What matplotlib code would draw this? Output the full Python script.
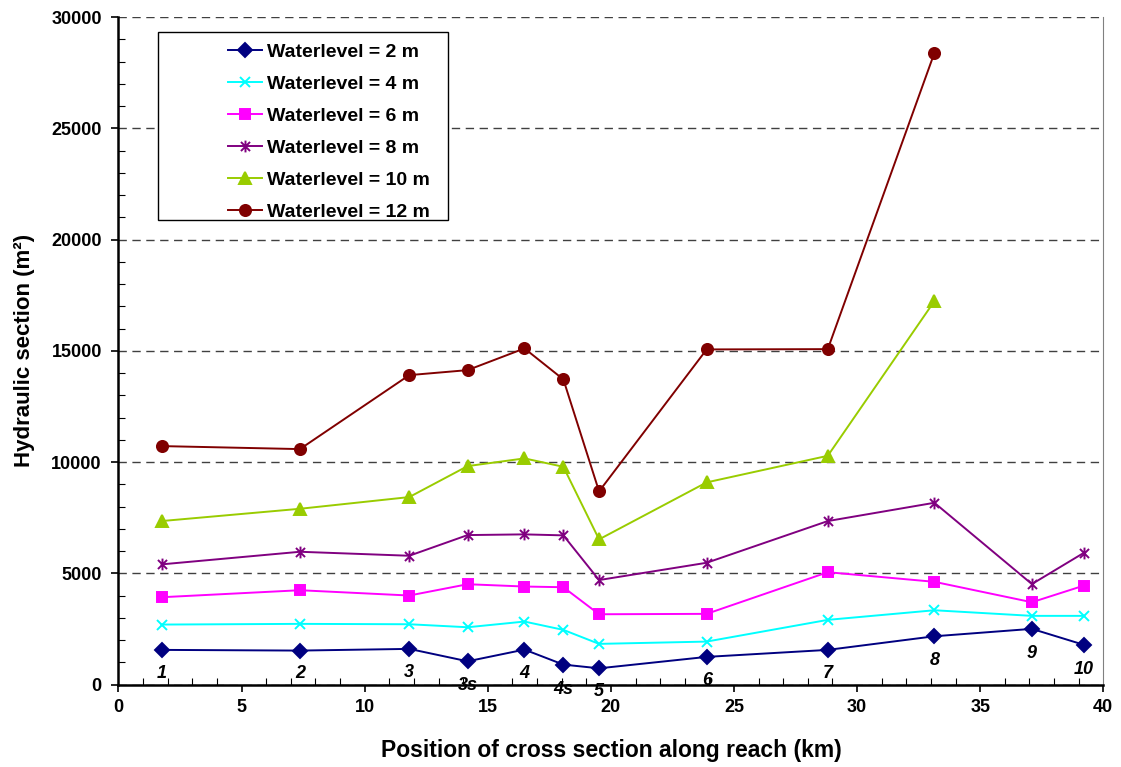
import numpy as np
import matplotlib
matplotlib.use("Agg")
import matplotlib.pyplot as plt
from matplotlib.path import Path
from matplotlib.patches import Rectangle
from matplotlib.ticker import MultipleLocator

plt.rcParams['font.family'] = ['Liberation Sans', 'DejaVu Sans']
plt.rcParams['font.weight'] = 'bold'

# position of each cross section along the reach (km)
x_km = [1.75, 7.37, 11.81, 14.18, 16.49, 18.07, 19.52, 23.89, 28.81, 33.14, 37.10, 39.22]
sections = ['1', '2', '3', '3s', '4', '4s', '5', '6', '7', '8', '9', '10']

# hydraulic section (m2) per water level
wl2 = [1561, 1530, 1606, 1048, 1574, 900, 733, 1246, 1561, 2173, 2506, 1786]
wl4 = [2699, 2730, 2713, 2578, 2834, 2460, 1831, 1934, 2910, 3342, 3090, 3090]
wl6 = [3927, 4242, 4004, 4512, 4408, 4377, 3162, 3180, 5052, 4620, 3702, 4453]
wl8 = [5404, 5970, 5791, 6720, 6752, 6707, 4699, 5476, 7350, 8172, 4519, 5929]
wl10 = [7350, 7902, 8428, 9820, 10166, 9789, 6527, 9088, 10283, 17233]
wl12 = [10719, 10584, 13908, 14133, 15108, 13715, 8684, 15063, 15076, 28387]

# where the section names sit (y, data units)
label_y = [520, 520, 560, -60, 520, -220, -330, 200, 520, 1100, 1420, 700]

# excel-like asterisk marker: x plus a vertical bar
star = Path([(-1, -1), (1, 1), (-1, 1), (1, -1), (0, -1.3), (0, 1.3)],
            [Path.MOVETO, Path.LINETO, Path.MOVETO, Path.LINETO, Path.MOVETO, Path.LINETO])

series = [
    (wl2, 'Waterlevel = 2 m', '#000080', 'D', 7),
    (wl4, 'Waterlevel = 4 m', '#00FFFF', 'x', 7.5),
    (wl6, 'Waterlevel = 6 m', '#FF00FF', 's', 7),
    (wl8, 'Waterlevel = 8 m', '#800080', star, 8.5),
    (wl10, 'Waterlevel = 10 m', '#99CC00', '^', 8),
    (wl12, 'Waterlevel = 12 m', '#800000', 'o', 8),
]

fig = plt.figure(figsize=(11.21, 7.67), dpi=100)
ax = fig.add_axes([0.1057, 0.1074, 0.8785, 0.8704])

for vals, name, col, mk, ms in series:
    ax.plot(x_km[:len(vals)], vals, color=col, marker=mk, markersize=ms,
            linewidth=1.4, markeredgewidth=1.4, label=name, clip_on=False)

for xs, name, ys in zip(x_km, sections, label_y):
    ax.text(xs, ys, name, ha='center', va='center', fontsize=13,
            fontweight='bold', fontstyle='italic', clip_on=False, zorder=5)

ax.set_xlim(0, 40)
ax.set_ylim(0, 30000)
ax.xaxis.set_major_locator(MultipleLocator(5))
ax.xaxis.set_minor_locator(MultipleLocator(1))
ax.yaxis.set_major_locator(MultipleLocator(5000))
ax.yaxis.set_minor_locator(MultipleLocator(1000))
ax.tick_params(which='major', direction='out', length=5, width=1.2, labelsize=13)
ax.tick_params(axis='y', which='major', pad=7)
ax.tick_params(axis='x', which='major', pad=5)
ax.tick_params(which='minor', direction='in', length=5, width=0.8)
for lab in ax.get_xticklabels() + ax.get_yticklabels():
    lab.set_fontweight('bold')

ax.grid(axis='y', which='major', linestyle=(0, (6, 4)), color='#404040', linewidth=1.0)
ax.spines['top'].set_visible(False)
ax.spines['right'].set_color('#808080')
ax.spines['left'].set_linewidth(1.8)
ax.spines['bottom'].set_linewidth(1.8)

ax.set_xlabel('Position of cross section along reach (km)', fontsize=16.5,
              fontweight='bold', labelpad=17)
ax.set_ylabel('Hydraulic section (m²)', fontsize=16, fontweight='bold', labelpad=12)

# legend box drawn separately to get the wide left margin
ax.add_patch(Rectangle((0.0404, 0.696), 0.2945, 0.281, transform=ax.transAxes,
                       facecolor='white', edgecolor='black', linewidth=1.0, zorder=3))
leg = ax.legend(loc='upper left', bbox_to_anchor=(0.111, 0.961), frameon=False,
                fontsize=14, handlelength=1.75, handletextpad=0.28, labelspacing=0.74,
                borderpad=0, borderaxespad=0)
leg.set_zorder(4)
for t in leg.get_texts():
    t.set_fontweight('bold')

fig.savefig('out.png', dpi=100)
